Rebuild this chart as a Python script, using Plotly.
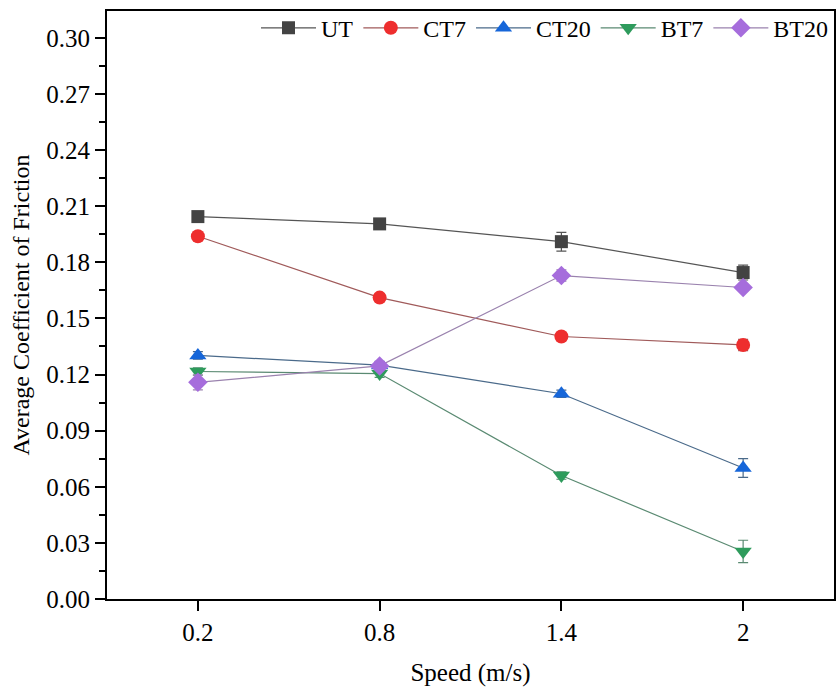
import plotly.graph_objects as go

# Sliding speed categories (m/s)
speeds = ["0.2", "0.8", "1.4", "2"]

# Average coefficient of friction per sample
ut = [0.2044, 0.2005, 0.1910, 0.1745]
ct7 = [0.1939, 0.1611, 0.1403, 0.1358]
ct20 = [0.1302, 0.1250, 0.1097, 0.0700]
bt7 = [0.1216, 0.1205, 0.0660, 0.0254]
bt20 = [0.1158, 0.1246, 0.1729, 0.1665]

# Standard deviations
ut_err = [0.002, 0.002, 0.005, 0.004]
ct7_err = [0.002, 0.002, 0.002, 0.003]
ct20_err = [0.002, 0.002, 0.002, 0.005]
bt7_err = [0.002, 0.002, 0.002, 0.006]
bt20_err = [0.004, 0.002, 0.003, 0.002]

series = [
    ("UT", ut, ut_err, "#434343", "#555555", "square", 13),
    ("CT7", ct7, ct7_err, "#ee2e2e", "#a05a5a", "circle", 14),
    ("CT20", ct20, ct20_err, "#1666d9", "#4a6a8a", "triangle-up", 15),
    ("BT7", bt7, bt7_err, "#2e9b5c", "#5a8a72", "triangle-down", 15),
    ("BT20", bt20, bt20_err, "#a66ddc", "#9a82ae", "diamond", 15),
]

FONT = "Liberation Serif, Times New Roman, serif"

fig = go.Figure()
for name, vals, errs, mcol, lcol, sym, size in series:
    fig.add_trace(go.Scatter(
        x=speeds, y=vals, name=name, mode="lines+markers",
        line=dict(color=lcol, width=1.2),
        marker=dict(symbol=sym, size=size, color=mcol, line=dict(width=0)),
        error_y=dict(type="data", array=errs, visible=True,
                     color=lcol, thickness=1.2, width=5),
    ))

fig.update_layout(
    width=837, height=687,
    margin=dict(l=107, r=1, t=11, b=88),
    paper_bgcolor="white", plot_bgcolor="white",
    font=dict(family=FONT, size=24, color="black"),
    showlegend=True,
    legend=dict(
        orientation="h", x=1, xanchor="right", y=1.009, yanchor="top",
        bgcolor="rgba(0,0,0,0)", borderwidth=0,
        font=dict(family=FONT, size=24, color="black"),
        itemwidth=55, tracegroupgap=0,
    ),
)

fig.update_xaxes(
    type="category", range=[-0.5, 3.5],
    title=dict(text="Speed (m/s)", font=dict(family=FONT, size=25), standoff=20),
    showline=True, linecolor="black", linewidth=2, mirror=True,
    ticks="outside", ticklen=10, tickwidth=2, tickcolor="black",
    showgrid=False, zeroline=False,
    tickfont=dict(family=FONT, size=25),
)

fig.update_yaxes(
    range=[0, 0.3143],
    tickmode="array",
    tickvals=[i * 0.03 for i in range(11)],
    ticktext=[f"{i * 0.03:.2f}" for i in range(11)],
    title=dict(text="Average Coefficient of Friction", font=dict(family=FONT, size=24), standoff=10),
    showline=True, linecolor="black", linewidth=2, mirror=True,
    ticks="outside", ticklen=10, tickwidth=2, tickcolor="black",
    minor=dict(ticks="outside", ticklen=6, tickwidth=2, tickcolor="black",
               tickvals=[0.015 + i * 0.03 for i in range(10)]),
    showgrid=False, zeroline=False,
    tickfont=dict(family=FONT, size=25),
)

fig.write_html("out.html")
